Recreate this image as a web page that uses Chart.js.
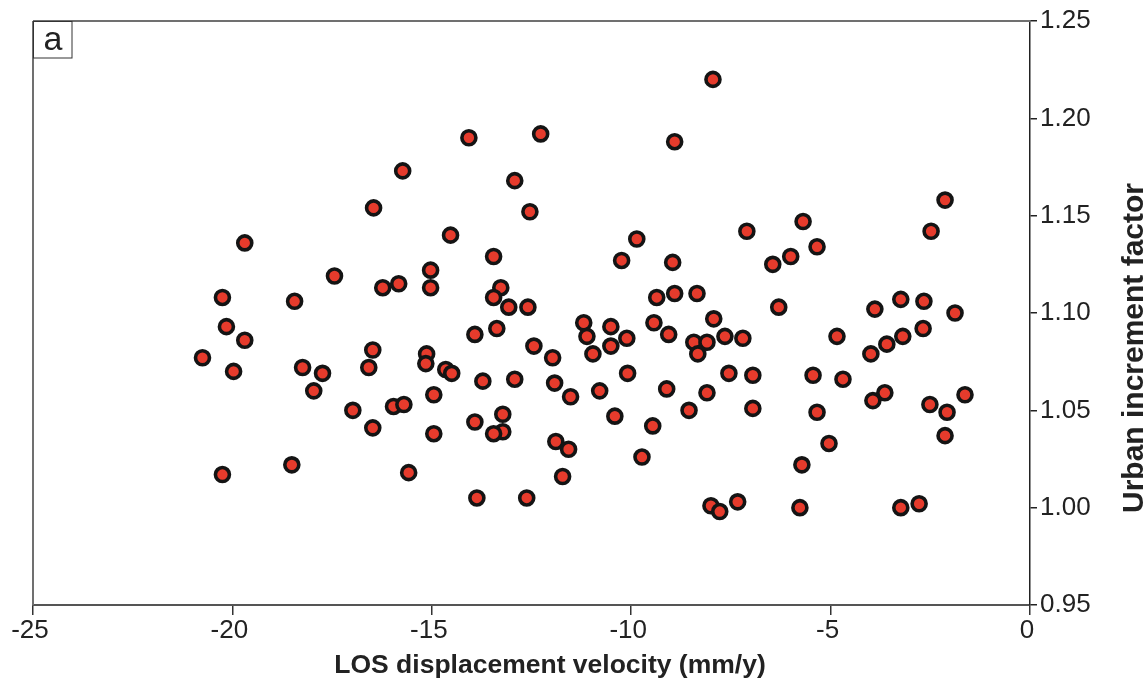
<!DOCTYPE html>
<html>
<head>
<meta charset="utf-8">
<script src="https://cdn.jsdelivr.net/npm/chart.js@4.4.1/dist/chart.umd.min.js"></script>
<style>
html,body{margin:0;padding:0;background:#fff;}
#wrap{width:1148px;height:686px;position:relative;}
canvas{display:block;}
</style>
</head>
<body>
<div id="wrap"><canvas id="c" width="1148" height="686"></canvas></div>
<script>
// LOS displacement velocity (mm/y)
const losVelocity = [
  -19.69,-20.25,-18.44,-14.07,-12.27,-15.73,-12.92,-16.46,-12.54,-14.53,
  -13.45,-15.03,-17.44,-16.23,-15.83,-15.03,-13.27,-13.45,-13.07,-12.59,
  -7.95,-8.91,-9.86,-7.10,-10.24,-8.96,-6.45,-6.00,-9.36,-8.91,
  -8.35,-7.93,-6.30,-2.13,-5.69,-2.48,-5.34,-3.24,-2.66,-3.89,
  -1.88,-20.15,-19.69,-20.75,-19.97,-20.25,-18.51,-13.92,-13.37,-12.44,
  -16.48,-18.24,-17.74,-16.58,-15.13,-15.15,-14.65,-14.50,-13.72,-12.92,
  -17.96,-14.95,-16.98,-15.96,-15.70,-13.92,-13.22,-13.22,-13.45,-16.48,
  -14.95,-15.58,-13.87,-12.62,-11.19,-11.11,-10.51,-10.11,-10.51,-10.96,
  -11.97,-9.43,-9.06,-8.43,-8.10,-8.33,-7.65,-7.20,-10.09,-11.92,
  -11.52,-10.79,-9.11,-8.10,-7.55,-6.95,-8.55,-6.95,-10.41,-9.46,
  -11.89,-11.57,-9.73,-11.72,-8.00,-7.78,-7.33,-4.84,-2.68,-3.19,
  -3.59,-3.99,-5.44,-4.69,-3.64,-3.94,-1.63,-2.51,-2.08,-5.34,
  -2.13,-5.04,-5.72,-5.77,-3.24,-2.78
];
// Urban increment factor
const urbanFactor = [
  1.136,1.108,1.106,1.190,1.192,1.173,1.168,1.154,1.152,1.140,
  1.129,1.122,1.119,1.113,1.115,1.113,1.113,1.108,1.103,1.103,
  1.220,1.188,1.138,1.142,1.127,1.126,1.125,1.129,1.108,1.110,
  1.110,1.097,1.103,1.158,1.147,1.142,1.134,1.107,1.106,1.102,
  1.100,1.093,1.086,1.077,1.070,1.017,1.022,1.089,1.092,1.083,
  1.081,1.072,1.069,1.072,1.079,1.074,1.071,1.069,1.065,1.066,
  1.060,1.058,1.050,1.052,1.053,1.044,1.048,1.039,1.038,1.041,
  1.038,1.018,1.005,1.005,1.095,1.088,1.093,1.087,1.083,1.079,
  1.077,1.095,1.089,1.085,1.085,1.079,1.088,1.087,1.069,1.064,
  1.057,1.060,1.061,1.059,1.069,1.068,1.050,1.051,1.047,1.042,
  1.034,1.030,1.026,1.016,1.001,0.998,1.003,1.088,1.092,1.088,
  1.084,1.079,1.068,1.066,1.059,1.055,1.058,1.053,1.049,1.049,
  1.037,1.033,1.022,1.000,1.000,1.002
];
const xTickValues = [-25,-20,-15,-10,-5,0];
const yTickValues = [0.95,1.00,1.05,1.10,1.15,1.20,1.25];
const panelLabel = 'a';
const xTitle = 'LOS displacement velocity (mm/y)';
const yTitle = 'Urban increment factor';

const FONT = '"Liberation Sans", Arial, Helvetica, sans-serif';
const points = losVelocity.map((v, i) => ({x: v, y: urbanFactor[i]}));

const decorPlugin = {
  id: 'decor',
  afterDraw(chart) {
    const ctx = chart.ctx;
    const a = chart.chartArea;
    ctx.save();
    // top & left frame lines
    ctx.strokeStyle = '#707070';
    ctx.lineWidth = 2;
    ctx.beginPath();
    ctx.moveTo(a.left, a.top);
    ctx.lineTo(a.right, a.top);
    ctx.moveTo(a.left, a.top);
    ctx.lineTo(a.left, a.bottom);
    ctx.stroke();
    // panel label box
    ctx.fillStyle = '#fff';
    ctx.fillRect(a.left, a.top, 39, 37);
    ctx.strokeStyle = '#333';
    ctx.lineWidth = 1;
    ctx.strokeRect(a.left + 0.5, a.top + 0.5, 38.5, 36.5);
    ctx.fillStyle = '#222';
    ctx.font = '34px ' + FONT;
    ctx.textAlign = 'center';
    ctx.textBaseline = 'alphabetic';
    ctx.fillText(panelLabel, a.left + 20, a.top + 29);
    // x title
    ctx.font = 'bold 26.5px ' + FONT;
    ctx.fillStyle = '#222';
    ctx.textAlign = 'center';
    ctx.fillText(xTitle, a.left + 517, a.bottom + 68);
    // y title
    ctx.font = 'bold 30px ' + FONT;
    ctx.translate(1143, 348);
    ctx.rotate(-Math.PI / 2);
    ctx.fillText(yTitle, 0, 0);
    ctx.restore();
  }
};

new Chart(document.getElementById('c'), {
  type: 'scatter',
  data: {
    datasets: [{
      data: points,
      pointStyle: 'circle',
      pointRadius: 7,
      pointHoverRadius: 7,
      backgroundColor: '#e63b2c',
      borderColor: '#141414',
      borderWidth: 3.6
    }]
  },
  options: {
    responsive: false,
    animation: false,
    devicePixelRatio: 1,
    layout: {padding: {left: 33, top: 21, right: 0, bottom: 0}},
    plugins: {legend: {display: false}, tooltip: {enabled: false}},
    events: [],
    scales: {
      x: {
        type: 'linear',
        position: 'bottom',
        min: -25,
        max: 0,
        afterBuildTicks(s) { s.ticks = xTickValues.map(v => ({value: v})); },
        afterFit(s) { s.height = 81; },
        ticks: {
          font: {family: FONT, size: 26},
          color: '#222',
          padding: 0,
          labelOffset: -3,
          maxRotation: 0,
          autoSkip: false,
          callback: v => String(v)
        },
        grid: {display: true, drawOnChartArea: false, drawTicks: true, tickLength: 10, color: '#333', lineWidth: 1.5},
        border: {display: true, color: '#555', width: 2}
      },
      y: {
        type: 'linear',
        position: 'right',
        min: 0.95,
        max: 1.25,
        afterBuildTicks(s) { s.ticks = yTickValues.map(v => ({value: v})); },
        afterFit(s) { s.width = 118; },
        ticks: {
          font: {family: FONT, size: 26},
          color: '#222',
          padding: 3,
          autoSkip: false,
          callback: v => Number(v).toFixed(2)
        },
        grid: {display: true, drawOnChartArea: false, drawTicks: true, tickLength: 7, color: '#222', lineWidth: 1.5},
        border: {display: true, color: '#222', width: 1.5}
      }
    }
  },
  plugins: [decorPlugin]
});
</script>
</body>
</html>
